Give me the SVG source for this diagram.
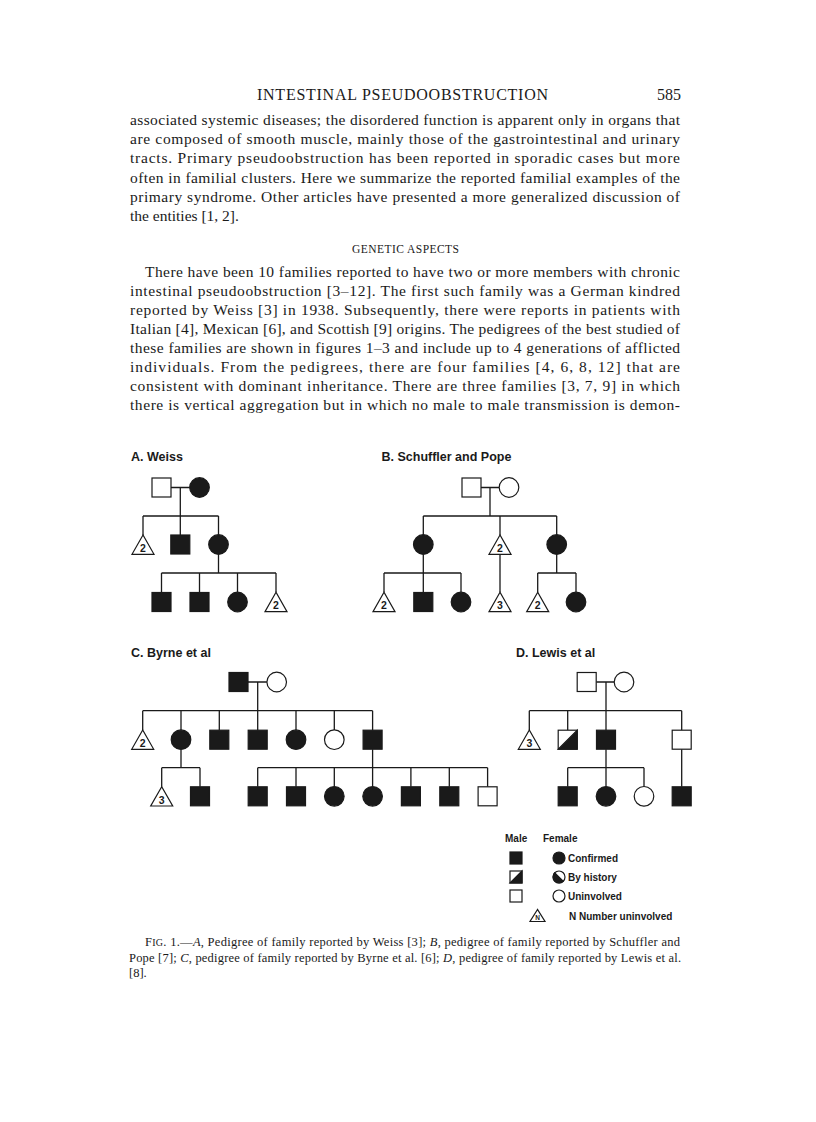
<svg xmlns="http://www.w3.org/2000/svg" width="816" height="1122" viewBox="0 0 816 1122">
<style>
.tx{font-family:"Liberation Serif","Times New Roman",serif;fill:#1a1a1a}
.lab{font-family:"Liberation Sans",Arial,sans-serif;font-weight:bold;fill:#1a1a1a}
.ln{stroke:#1a1a1a;stroke-width:1.3;fill:none}
.f{fill:#1a1a1a;stroke:#1a1a1a;stroke-width:1.2}
.o{fill:#fff;stroke:#1a1a1a;stroke-width:1.2}
.n{font-family:"Liberation Sans",Arial,sans-serif;font-weight:bold;font-size:10.5px;text-anchor:middle;fill:#1a1a1a}
</style>
<rect width="816" height="1122" fill="#fff"/>

<g id="page-text" class="tx">
<text x="257" y="99.5" font-size="16" textLength="291" lengthAdjust="spacing">INTESTINAL PSEUDOOBSTRUCTION</text>
<text x="657" y="99.5" font-size="16">585</text>
<g font-size="15.5">
<text x="130" y="125" textLength="550" lengthAdjust="spacing">associated systemic diseases; the disordered function is apparent only in organs that</text>
<text x="130" y="144.2" textLength="550" lengthAdjust="spacing">are composed of smooth muscle, mainly those of the gastrointestinal and urinary</text>
<text x="130" y="163.4" textLength="550" lengthAdjust="spacing">tracts. Primary pseudoobstruction has been reported in sporadic cases but more</text>
<text x="130" y="182.6" textLength="550" lengthAdjust="spacing">often in familial clusters. Here we summarize the reported familial examples of the</text>
<text x="130" y="201.8" textLength="550" lengthAdjust="spacing">primary syndrome. Other articles have presented a more generalized discussion of</text>
<text x="130" y="221">the entities [1, 2].</text>
</g>
<text x="352" y="253" font-size="11.5" textLength="107" lengthAdjust="spacing">GENETIC ASPECTS</text>
<g font-size="15.5">
<text x="145" y="276.5" textLength="535" lengthAdjust="spacing">There have been 10 families reported to have two or more members with chronic</text>
<text x="130" y="295.6" textLength="550" lengthAdjust="spacing">intestinal pseudoobstruction [3–12]. The first such family was a German kindred</text>
<text x="130" y="314.7" textLength="550" lengthAdjust="spacing">reported by Weiss [3] in 1938. Subsequently, there were reports in patients with</text>
<text x="130" y="333.8" textLength="550" lengthAdjust="spacing">Italian [4], Mexican [6], and Scottish [9] origins. The pedigrees of the best studied of</text>
<text x="130" y="352.9" textLength="550" lengthAdjust="spacing">these families are shown in figures 1–3 and include up to 4 generations of afflicted</text>
<text x="130" y="372" textLength="550" lengthAdjust="spacing">individuals. From the pedigrees, there are four families [4, 6, 8, 12] that are</text>
<text x="130" y="391.1" textLength="550" lengthAdjust="spacing">consistent with dominant inheritance. There are three families [3, 7, 9] in which</text>
<text x="130" y="410.2" textLength="550" lengthAdjust="spacing">there is vertical aggregation but in which no male to male transmission is demon-</text>
</g>
<g font-size="12.5">
<text x="145" y="946" textLength="535" lengthAdjust="spacing">F<tspan font-size="10">IG</tspan>. 1.—<tspan font-style="italic">A</tspan>, Pedigree of family reported by Weiss [3]; <tspan font-style="italic">B</tspan>, pedigree of family reported by Schuffler and</text>
<text x="129" y="961.5" textLength="552" lengthAdjust="spacing">Pope [7]; <tspan font-style="italic">C</tspan>, pedigree of family reported by Byrne et al. [6]; <tspan font-style="italic">D</tspan>, pedigree of family reported by Lewis et al.</text>
<text x="129" y="977">[8].</text>
</g>
</g>

<g id="titles" class="lab" font-size="12.5">
<text x="131" y="461">A. Weiss</text>
<text x="381.5" y="461">B. Schuffler and Pope</text>
<text x="131" y="657">C. Byrne et al</text>
<text x="516" y="657">D. Lewis et al</text>
</g>

<g id="connectors" class="ln">
<path d="M171 487.5H189.7M180.3 487.5V516M143 516H218.5M143 516V535M180.3 516V535M218.5 516V534.7M218.5 554.3V573M161.5 573H276M161.5 573V592.5M199.5 573V592.5M237.5 573V592.2M276 573V592.3"/>
<path d="M481 487.5H499.2M490 487.5V516M423.3 516H556.7M423.3 516V534.7M500 516V535M556.7 516V534.7M423.3 554.3V573M384 573H461M384 573V592.3M423.3 573V592.5M461 573V592.2M500 554.3V592.3M556.7 554.3V573M537.7 573H576M537.7 573V592.3M576 573V592.2"/>
<path d="M248 682H266.9M257.7 682V710.7M142.7 710.7H372.6M142.7 710.7V730M181 710.7V729.9M219.3 710.7V730.2M257.7 710.7V730.2M296 710.7V729.9M334.3 710.7V729.9M372.6 710.7V730.2M181 749.5V767.7M161.7 767.7H200M161.7 767.7V786.7M200 767.7V786.8M372.6 749.2V767.7M257.7 767.7H487.6M257.7 767.7V786.8M296 767.7V786.8M334.3 767.7V786.5M372.6 767.7V786.5M410.9 767.7V786.8M449.3 767.7V786.8M487.6 767.7V786.8"/>
<path d="M596.2 682H614.2M606 682V710.7M529.3 710.7H681.7M529.3 710.7V730M567.7 710.7V730.2M606 710.7V730.2M681.7 710.7V730.2M606 749.2V767.7M567.7 767.7H644M567.7 767.7V786.8M606 767.7V786.5M644 767.7V786.5M681.7 749.2V786.8"/>
</g>

<g id="pedigree-A">
<g id="A-I1"><rect class="o" x="152" y="478" width="19" height="19"/></g>
<g id="A-I2"><circle class="f" cx="199.5" cy="487.5" r="9.8"/></g>
<g id="A-II1"><polygon class="o" points="143,535 132,554.3 154,554.3"/><text class="n" x="143" y="552">2</text></g>
<g id="A-II2"><rect class="f" x="170.8" y="535" width="19" height="19"/></g>
<g id="A-II3"><circle class="f" cx="218.5" cy="544.5" r="9.8"/></g>
<g id="A-III1"><rect class="f" x="152" y="592.5" width="19" height="19"/></g>
<g id="A-III2"><rect class="f" x="190" y="592.5" width="19" height="19"/></g>
<g id="A-III3"><circle class="f" cx="237.5" cy="602" r="9.8"/></g>
<g id="A-III4"><polygon class="o" points="276,592.3 265,611.6 287,611.6"/><text class="n" x="276" y="609.3">2</text></g>
</g>

<g id="pedigree-B">
<g id="B-I1"><rect class="o" x="462" y="478" width="19" height="19"/></g>
<g id="B-I2"><circle class="o" cx="509" cy="487.5" r="9.8"/></g>
<g id="B-II1"><circle class="f" cx="423.3" cy="544.5" r="9.8"/></g>
<g id="B-II2"><polygon class="o" points="500,535 489,554.3 511,554.3"/><text class="n" x="500" y="552">2</text></g>
<g id="B-II3"><circle class="f" cx="556.7" cy="544.5" r="9.8"/></g>
<g id="B-III1"><polygon class="o" points="384,592.3 373,611.6 395,611.6"/><text class="n" x="384" y="609.3">2</text></g>
<g id="B-III2"><rect class="f" x="413.8" y="592.5" width="19" height="19"/></g>
<g id="B-III3"><circle class="f" cx="461" cy="602" r="9.8"/></g>
<g id="B-III4"><polygon class="o" points="500,592.3 489,611.6 511,611.6"/><text class="n" x="500" y="609.3">3</text></g>
<g id="B-III5"><polygon class="o" points="537.7,592.3 526.7,611.6 548.7,611.6"/><text class="n" x="537.7" y="609.3">2</text></g>
<g id="B-III6"><circle class="f" cx="576" cy="602" r="9.8"/></g>
</g>

<g id="pedigree-C">
<g id="C-I1"><rect class="f" x="229" y="672.5" width="19" height="19"/></g>
<g id="C-I2"><circle class="o" cx="276.7" cy="682" r="9.8"/></g>
<g id="C-II1"><polygon class="o" points="142.7,730 131.7,749.3 153.7,749.3"/><text class="n" x="142.7" y="747">2</text></g>
<g id="C-II2"><circle class="f" cx="181" cy="739.7" r="9.8"/></g>
<g id="C-II3"><rect class="f" x="209.8" y="730.2" width="19" height="19"/></g>
<g id="C-II4"><rect class="f" x="248.2" y="730.2" width="19" height="19"/></g>
<g id="C-II5"><circle class="f" cx="296" cy="739.7" r="9.8"/></g>
<g id="C-II6"><circle class="o" cx="334.3" cy="739.7" r="9.8"/></g>
<g id="C-II7"><rect class="f" x="363.1" y="730.2" width="19" height="19"/></g>
<g id="C-III1"><polygon class="o" points="161.7,786.7 150.7,806 172.7,806"/><text class="n" x="161.7" y="803.7">3</text></g>
<g id="C-III2"><rect class="f" x="190.5" y="786.8" width="19" height="19"/></g>
<g id="C-III3"><rect class="f" x="248.2" y="786.8" width="19" height="19"/></g>
<g id="C-III4"><rect class="f" x="286.5" y="786.8" width="19" height="19"/></g>
<g id="C-III5"><circle class="f" cx="334.3" cy="796.3" r="9.8"/></g>
<g id="C-III6"><circle class="f" cx="372.6" cy="796.3" r="9.8"/></g>
<g id="C-III7"><rect class="f" x="401.4" y="786.8" width="19" height="19"/></g>
<g id="C-III8"><rect class="f" x="439.8" y="786.8" width="19" height="19"/></g>
<g id="C-III9"><rect class="o" x="478.1" y="786.8" width="19" height="19"/></g>
</g>

<g id="pedigree-D">
<g id="D-I1"><rect class="o" x="577.2" y="672.5" width="19" height="19"/></g>
<g id="D-I2"><circle class="o" cx="624" cy="682" r="9.8"/></g>
<g id="D-II1"><polygon class="o" points="529.3,730 518.3,749.3 540.3,749.3"/><text class="n" x="529.3" y="747">3</text></g>
<g id="D-II2"><rect class="o" x="558.2" y="730.2" width="19" height="19"/><polygon class="f" points="558.2,749.2 577.2,749.2 577.2,730.2"/></g>
<g id="D-II3"><rect class="f" x="596.5" y="730.2" width="19" height="19"/></g>
<g id="D-II4"><rect class="o" x="672.2" y="730.2" width="19" height="19"/></g>
<g id="D-III1"><rect class="f" x="558.2" y="786.8" width="19" height="19"/></g>
<g id="D-III2"><circle class="f" cx="606" cy="796.3" r="9.8"/></g>
<g id="D-III3"><circle class="o" cx="644" cy="796.3" r="9.8"/></g>
<g id="D-III4"><rect class="f" x="672.2" y="786.8" width="19" height="19"/></g>
</g>

<g id="legend" class="lab" font-size="10">
<text x="505" y="842">Male</text>
<text x="543" y="842">Female</text>
<rect class="f" x="510" y="852" width="12" height="12"/>
<circle class="f" cx="559" cy="858" r="6"/>
<text x="568" y="861.5">Confirmed</text>
<rect class="o" x="510" y="871" width="12" height="12"/>
<polygon class="f" points="510,883 522,883 522,871"/>
<circle class="o" cx="559" cy="877" r="6"/>
<path class="f" d="M554.76 872.76A6 6 0 0 0 563.24 881.24Z"/>
<text x="568" y="880.5">By history</text>
<rect class="o" x="510" y="890" width="12" height="12"/>
<circle class="o" cx="559" cy="896" r="6"/>
<text x="568" y="899.5">Uninvolved</text>
<polygon class="o" points="537.5,909.5 530,921.5 545,921.5"/>
<text x="537.5" y="920" font-size="6.5" text-anchor="middle">N</text>
<text x="569" y="920">N Number uninvolved</text>
</g>
</svg>
